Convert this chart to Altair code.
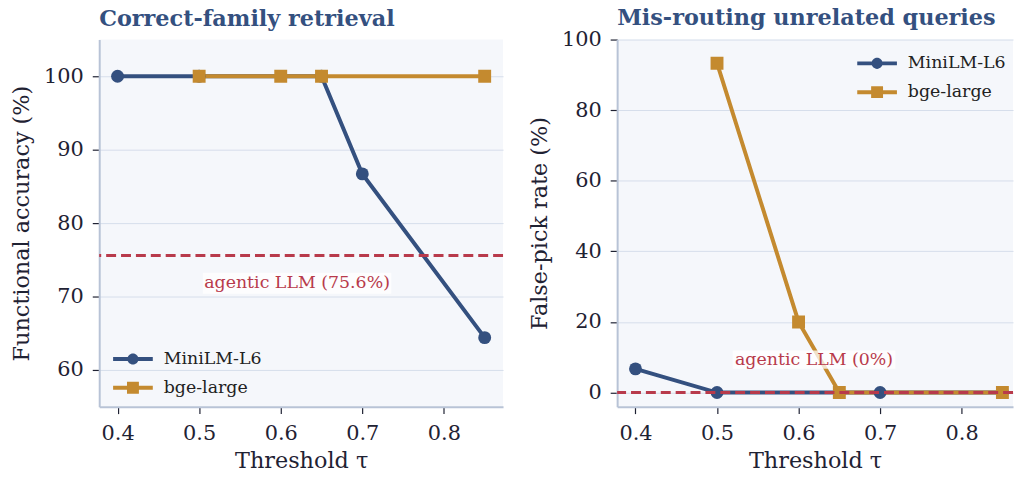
import altair as alt
import pandas as pd

models = ["MiniLM-L6", "bge-large"]
colors = ["#34507f", "#c48a2f"]
minilm_tau = [0.4, 0.5, 0.65, 0.7, 0.85]
minilm_acc = [100, 100, 100, 86.7, 64.4]
minilm_fp = [6.7, 0, 0, 0, 0]
bge_tau = [0.5, 0.6, 0.65, 0.85]
bge_acc = [100, 100, 100, 100]
bge_fp = [93.3, 20, 0, 0]
llm_acc = 75.6
llm_fp = 0.0
x_ticks = [0.4, 0.5, 0.6, 0.7, 0.8]

rows = []
for t, a, f in zip(minilm_tau, minilm_acc, minilm_fp):
    rows.append({"model": models[0], "tau": t, "acc": a, "fp": f})
for t, a, f in zip(bge_tau, bge_acc, bge_fp):
    rows.append({"model": models[1], "tau": t, "acc": a, "fp": f})
df = pd.DataFrame(rows)

FONT = "DejaVu Serif"
RED = "#b83a4b"
LEG_CIRCLE = ("M-1,-0.1L1,-0.1L1,0.1L-1,0.1Z "
              "M0.28,0A0.28,0.28 0 1 1 -0.28,0A0.28,0.28 0 1 1 0.28,0Z")
LEG_SQUARE = ("M-1,-0.1L1,-0.1L1,0.1L-1,0.1Z "
              "M-0.3,-0.3L0.3,-0.3L0.3,0.3L-0.3,0.3Z")


def box_path(h):
    return f"M-1,-{h}L1,-{h}L1,{h}L-1,{h}Z"


def leg(x, y):
    return alt.Legend(orient="none", legendX=x, legendY=y, title=None, symbolSize=1600,
                      labelFontSize=17.5, labelFont=FONT, labelColor="#222222",
                      labelOffset=11, rowPadding=0, padding=0,
                      symbolStrokeWidth=0, symbolOpacity=1)


def panel(ycol, ytitle, title, ydomain, yticks, xdomain, width,
          leg_x, leg_y, ref, label, lab_x, lab_y, box_w, title_offset):
    xenc = alt.X("tau:Q", scale=alt.Scale(domain=xdomain, nice=False, zero=False),
                 axis=alt.Axis(values=x_ticks, format=".1f", title="Threshold τ", grid=False))
    yenc = alt.Y(f"{ycol}:Q", scale=alt.Scale(domain=ydomain, nice=False, zero=False),
                 axis=alt.Axis(values=yticks, title=ytitle))
    layers = []
    shapes = ["circle", "square"]
    for m, c in zip(models, colors):
        sub = alt.Chart(df).transform_filter(alt.datum.model == m)
        layers.append(sub.mark_line(strokeWidth=4, clip=True, color=c).encode(x=xenc, y=yenc))
    lab_df = pd.DataFrame({"tau": [lab_x], "y": [lab_y], "text": [label]})
    lab_x_enc = alt.X("tau:Q", scale=alt.Scale(domain=xdomain, nice=False, zero=False))
    lab_y_enc = alt.Y("y:Q", scale=alt.Scale(domain=ydomain, nice=False, zero=False))
    box = alt.Chart(lab_df).mark_point(filled=True, color="white", opacity=0.75,
                                       shape=box_path(0.112), size=box_w ** 2).encode(
        x=lab_x_enc, y=lab_y_enc)
    text = alt.Chart(lab_df).mark_text(color=RED, font=FONT, fontSize=17.5, baseline="middle",
                                       align="center").encode(
        x=lab_x_enc, y=lab_y_enc, text="text:N")
    layers += [box, text]
    for m, c, s in zip(models, colors, shapes):
        sub = alt.Chart(df).transform_filter(alt.datum.model == m)
        layers.append(sub.mark_point(filled=True, opacity=1, shape=s, size=169, clip=True,
                                     color=c).encode(x=xenc, y=yenc))
    ref_df = pd.DataFrame({"v": [ref]})
    rule = alt.Chart(ref_df).mark_rule(color=RED, strokeWidth=3, strokeDash=[10, 5]).encode(
        y=alt.Y("v:Q", scale=alt.Scale(domain=ydomain, nice=False, zero=False)))
    legend_layer = alt.Chart(df).mark_point(filled=True, opacity=0).encode(
        x=xenc, y=yenc,
        fill=alt.Fill("model:N", scale=alt.Scale(domain=models, range=colors),
                      legend=leg(leg_x, leg_y)),
        shape=alt.Shape("model:N", scale=alt.Scale(domain=models, range=[LEG_CIRCLE, LEG_SQUARE]),
                        legend=leg(leg_x, leg_y)),
    )
    layers += [rule, legend_layer]
    return alt.layer(*layers).properties(
        width=width, height=370,
        title=alt.TitleParams(title, anchor="start", frame="group", font=FONT, fontSize=22.5,
                              fontWeight="bold", color="#34507f", offset=title_offset))


left = panel("acc", "Functional accuracy (%)", "Correct-family retrieval", [55, 105],
             [60, 70, 80, 90, 100], [0.3775, 0.8725], 407, 14, 302, llm_acc,
             "agentic LLM (75.6%)", 0.62, 71.8, 190, 9)
right = panel("fp", "False-pick rate (%)", "Mis-routing unrelated queries", [-4, 100],
              [0, 20, 40, 60, 80, 100], [0.3775, 0.863], 399, 242, 4, llm_fp,
              "agentic LLM (0%)", 0.619, 9.3, 164, -1)

chart = alt.hconcat(left, right, spacing=23).resolve_scale(
    fill="independent", shape="independent", x="independent", y="independent"
).configure(
    padding={"left": 10, "top": 5, "right": 0, "bottom": 0},
    font=FONT,
).configure_view(
    fill="#f5f7fb", stroke=None
).configure_axis(
    labelFont=FONT, titleFont=FONT, labelFontSize=21, titleFontSize=22.5,
    labelColor="#1f2233", titleColor="#1f2233", titleFontWeight="normal",
    domainColor="#b8c3d6", domainWidth=2, tickColor="#1f2233", tickSize=7, tickWidth=1.2,
    gridColor="#d6deeb", gridWidth=1, labelPadding=9, titlePadding=10,
).configure_axisX(
    titlePadding=6
)

chart.save("out.html", embed_options={"renderer": "svg", "actions": False})
